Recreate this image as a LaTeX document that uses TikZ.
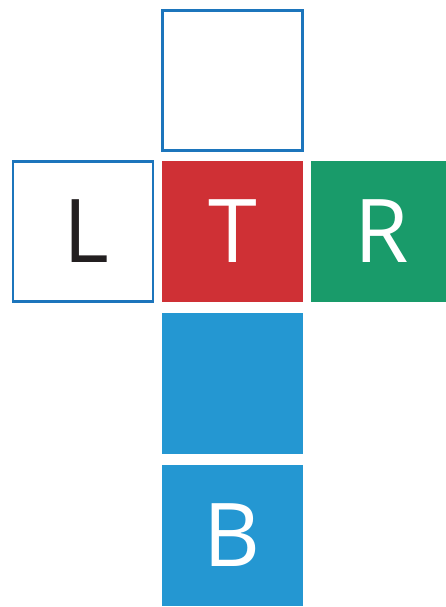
\documentclass[tikz,border=0pt]{standalone}
\usepackage{fontspec}
\setmainfont{Open Sans}
\usetikzlibrary{positioning}
\definecolor{faceRed}{HTML}{CF3035}
\definecolor{faceGreen}{HTML}{199B6A}
\definecolor{faceBlue}{HTML}{2497D2}
\definecolor{edgeBlue}{HTML}{1C75BC}
\definecolor{inkBlack}{HTML}{231F20}
\begin{document}
\begin{tikzpicture}[
    face/.style={
      minimum size=141pt,
      inner sep=0pt,
      outer sep=0pt,
      text depth=-4pt,
      font=\fontsize{88}{88}\selectfont
    },
    empty/.style={
      face,
      draw=edgeBlue,
      line width=2.2pt,
      minimum size=140pt,
      text=inkBlack
    },
    filled/.style={
      face,
      text=white
    }
  ]
    \useasboundingbox (0,0) rectangle (445pt,-607pt);
    \node[filled, fill=faceRed] (top) at (232.5pt,-231.5pt) {T};
    \node[empty, above=10.5pt of top] (back) {};
    \node[empty, left=9pt of top] (left) {\hspace{6pt}L};
    \node[filled, fill=faceGreen, right=8pt of top] (right) {R};
    \node[filled, fill=faceBlue, below=11pt of top] (front) {};
    \node[filled, fill=faceBlue, below=11pt of front] (bottom) {B};
  \end{tikzpicture}
\end{document}
